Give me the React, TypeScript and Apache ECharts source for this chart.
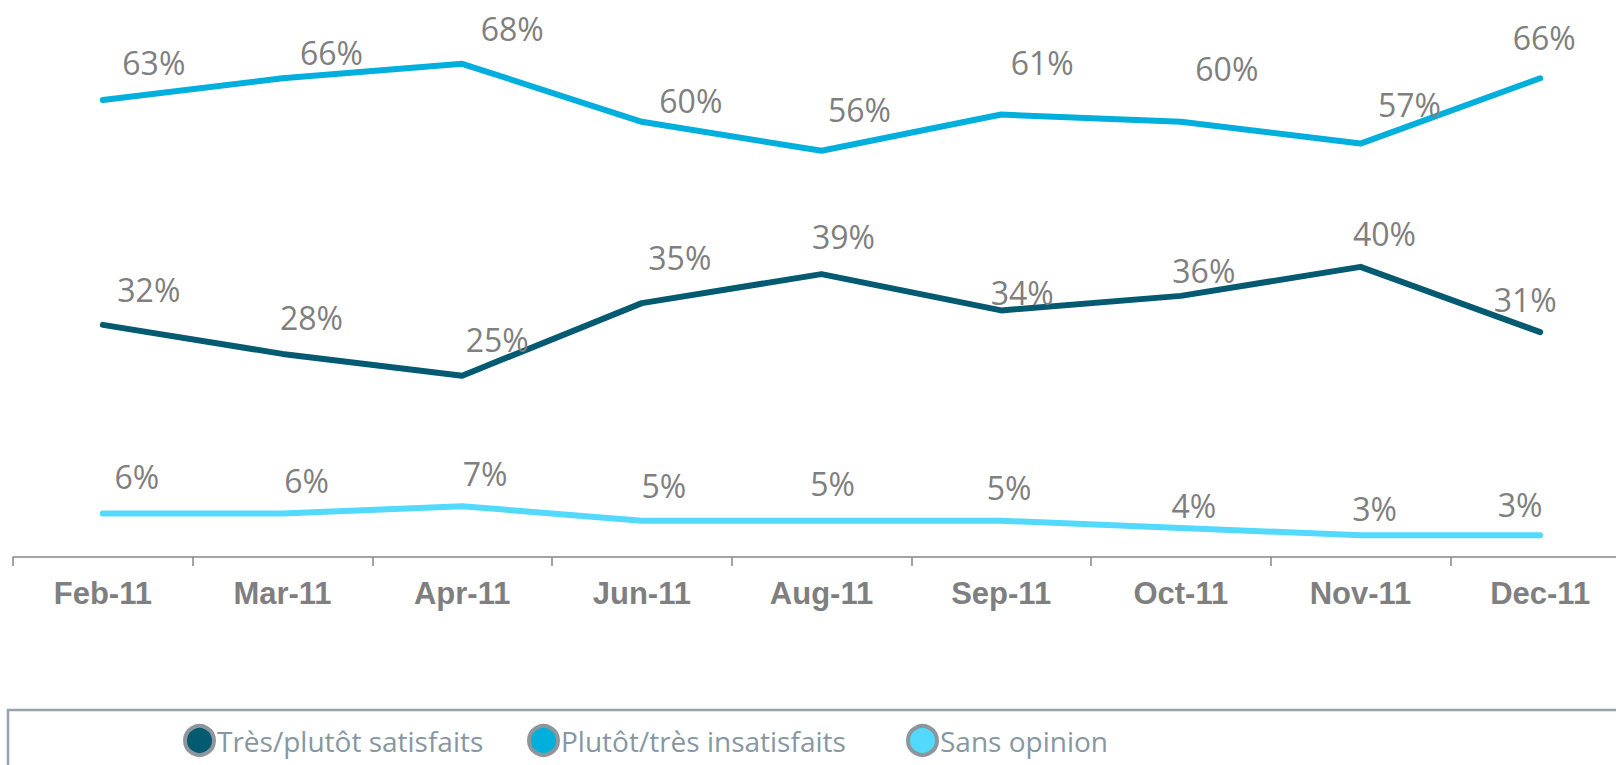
import React, { useEffect, useRef } from "react";
import * as echarts from "echarts";

const categories = ["Feb-11", "Mar-11", "Apr-11", "Jun-11", "Aug-11", "Sep-11", "Oct-11", "Nov-11", "Dec-11"];
const satisfaits = [32, 28, 25, 35, 39, 34, 36, 40, 31];
const insatisfaits = [63, 66, 68, 60, 56, 61, 60, 57, 66];
const sansOpinion = [6, 6, 7, 5, 5, 5, 4, 3, 3];

const seriesNames = ["Très/plutôt satisfaits", "Plutôt/très insatisfaits", "Sans opinion"];
const seriesColors = ["#045a70", "#00afdc", "#52d9fb"];

// label placement offsets (layout only), [dx, dy] from point
const offsetsSatisfaits = [[46, -35], [29, -36], [35, -36], [38, -46], [22, -38], [21, -18], [23, -25], [24, -33], [-15, -33]];
const offsetsInsatisfaits = [[51, -38], [49, -26], [50, -35], [49, -21], [38, -41], [41, -52], [46, -53], [49, -39], [4, -41]];
const offsetsSans = [[34, -37], [24, -33], [23, -33], [22, -35], [11, -37], [8, -33], [13, -22], [14, -27], [-20, -31]];

export default function App() {
  const ref = useRef<HTMLDivElement>(null);
  useEffect(() => {
    if (!ref.current) return;
    const chart = echarts.init(ref.current, null, { renderer: "svg" });
    const mk = (name: string, values: number[], color: string, offs: number[][]) => ({
      name,
      type: "line",
      data: values.map((v, i) => ({ value: v, label: { offset: offs[i] } })),
      symbol: "circle",
      symbolSize: 1,
      showSymbol: true,
      lineStyle: { color, width: 6, cap: "round", join: "round" },
      itemStyle: { color },
      emphasis: { disabled: true },
      label: {
        show: true,
        position: "inside",
        formatter: "{c}%",
        color: "#7f7f7f",
        fontFamily: "Open Sans",
        fontSize: 32,
      },
      z: 3,
    });
    const legendBase = {
      top: 724,
      icon: "circle",
      itemWidth: 29,
      itemHeight: 29,
      selectedMode: false,
      padding: 0,
      itemStyle: { color: "inherit", borderColor: "#8e969c", borderWidth: 4 },
      textStyle: { color: "#8697a2", fontFamily: "Open Sans", fontSize: 28, padding: [0, 0, 0, -2] },
    };
    chart.setOption({
      animation: false,
      backgroundColor: "#ffffff",
      grid: { left: 13, width: 1617, top: 13, bottom: 208 },
      xAxis: {
        type: "category",
        data: categories,
        boundaryGap: true,
        axisLine: { show: true, lineStyle: { color: "#868686", width: 1.5 } },
        axisTick: { show: true, length: 9, lineStyle: { color: "#868686", width: 1.5 } },
        axisLabel: {
          color: "#7f7f7f",
          fontFamily: "Liberation Sans",
          fontWeight: "bold",
          fontSize: 31,
          margin: 21,
        },
      },
      yAxis: {
        type: "value",
        min: 0,
        max: 75,
        show: false,
        splitLine: { show: false },
      },
      legend: [
        { ...legendBase, left: 183, data: [seriesNames[0]] },
        { ...legendBase, left: 527, data: [seriesNames[1]] },
        { ...legendBase, left: 906, data: [seriesNames[2]] },
      ],
      graphic: [
        {
          type: "rect",
          shape: { x: 8, y: 710, width: 1700, height: 100 },
          style: { fill: "none", stroke: "#98a3ab", lineWidth: 2.5 },
          silent: true,
        },
      ],
      series: [
        mk(seriesNames[0], satisfaits, seriesColors[0], offsetsSatisfaits),
        mk(seriesNames[1], insatisfaits, seriesColors[1], offsetsInsatisfaits),
        mk(seriesNames[2], sansOpinion, seriesColors[2], offsetsSans),
      ],
    });
    return () => chart.dispose();
  }, []);
  return (
    <div
      style={{ position: "absolute", left: 0, top: 0, width: 1616, height: 765, overflow: "hidden" }}
    >
      <div ref={ref} style={{ width: 1640, height: 765 }} />
    </div>
  );
}
